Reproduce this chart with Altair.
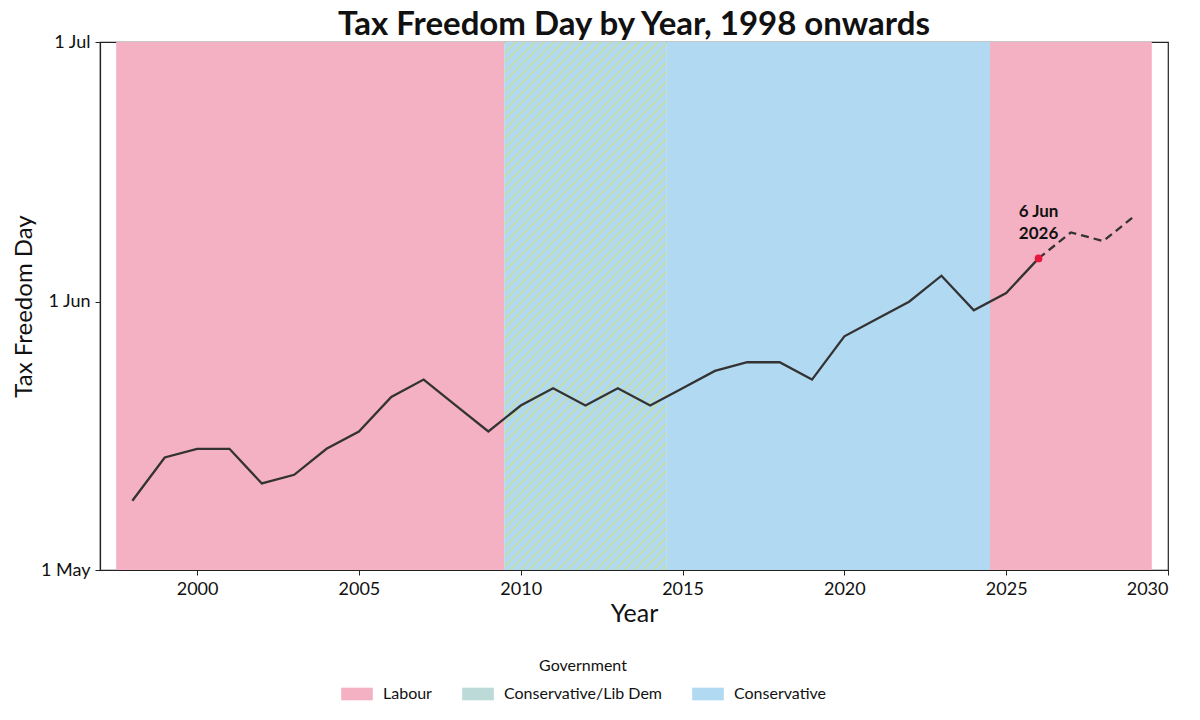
import altair as alt
import pandas as pd

# ---- data ----
years = list(range(1998, 2030))
tax_day = ["9 May", "14 May", "15 May", "15 May", "11 May", "12 May", "15 May", "17 May",
           "21 May", "23 May", "20 May", "17 May", "20 May", "22 May", "20 May", "22 May",
           "20 May", "22 May", "24 May", "25 May", "25 May", "23 May", "28 May", "30 May",
           "1 Jun", "4 Jun", "31 May", "2 Jun", "6 Jun", "9 Jun", "8 Jun", "11 Jun"]
last_actual_year = 2026

gov_names = ["Labour", "Conservative/Lib Dem", "Conservative", "Labour"]
gov_start = [1997.5, 2009.5, 2014.5, 2024.5]
gov_end = [2009.5, 2014.5, 2024.5, 2029.5]

legend_order = ["Labour", "Conservative/Lib Dem", "Conservative"]
legend_colors = ["#F5B1C4", "#BBDAD8", "#B2D9F2"]

y_tick_values = [0, 31, 61]
y_tick_labels = ["1 May", "1 Jun", "1 Jul"]

# ---- derived tables ----
def offset(s):
    d, m = s.split()
    return int(d) - 1 if m == "May" else 30 + int(d)

df = pd.DataFrame({"Year": years, "label": tax_day})
df["day"] = df["label"].map(offset)
actual = df[df["Year"] <= last_actual_year]
forecast = df[df["Year"] >= last_actual_year]
hl = df[df["Year"] == last_actual_year].copy()
hl["text"] = hl["label"] + "\n" + hl["Year"].astype(str)

bands = pd.DataFrame({"Government": gov_names, "start": gov_start, "end": gov_end})

W, H = 1068, 528
X_DOM = [1997, 2030]
Y_DOM = [0, 61]
FONT = "Lato"

xscale = alt.Scale(domain=X_DOM, nice=False, zero=False)
yscale = alt.Scale(domain=Y_DOM, nice=False, zero=True)

# hatch as a striped linear gradient (45 degree stripes)
bw = 5 * W / (X_DOM[1] - X_DOM[0])
bh = H
s = (bw + bh) / (bw * bw + bh * bh)
gx2, gy2 = bw * s, bh * s
period = 9.5 / (bw + bh)
green = 3.4 / (bw + bh)
blue_c, green_c = "#B2D9F2", "#C2DCB2"
stops = []
k = 0
while k * period < 1:
    a = k * period
    b = min(a + green, 1)
    c = min(a + period, 1)
    stops += [alt.GradientStop(offset=a, color=green_c), alt.GradientStop(offset=b, color=green_c),
              alt.GradientStop(offset=b, color=blue_c), alt.GradientStop(offset=c, color=blue_c)]
    k += 1
hatch_fill = alt.Gradient(gradient="linear", stops=stops, x1=0, y1=0, x2=gx2, y2=gy2)

label_expr = " : ".join(
    [f"datum.value == {v} ? '{l}'" for v, l in zip(y_tick_values, y_tick_labels)]) + " : ''"

base_bands = alt.Chart(bands).mark_rect().encode(
    x=alt.X("start:Q", scale=xscale,
            axis=alt.Axis(title="Year", values=list(range(2000, 2031, 5)), format="d",
                          labelFontSize=18, titleFontSize=25, titleFontWeight="normal",
                          titlePadding=3, labelPadding=5, tickSize=5, grid=False)),
    x2="end:Q",
    y=alt.datum(Y_DOM[0], scale=yscale,
                axis=alt.Axis(title="Tax Freedom Day", values=y_tick_values, labelExpr=label_expr,
                              labelFontSize=18, titleFontSize=24, titleFontWeight="normal",
                              titlePadding=4, labelPadding=5, tickSize=5, grid=False)),
    y2=alt.datum(Y_DOM[1]),
    color=alt.Color("Government:N",
                    scale=alt.Scale(domain=legend_order, range=legend_colors),
                    legend=alt.Legend(orient="none", direction="horizontal",
                                      legendX=241, legendY=616,
                                      title="Government", titleAnchor="middle",
                                      titleFontSize=16, titleFontWeight="normal",
                                      titlePadding=4, labelFontSize=16, labelOffset=10,
                                      columnPadding=30,
                                      symbolType="M-1,-0.4H1V0.4H-1Z", symbolSize=1000,
                                      symbolStrokeWidth=0, symbolOpacity=1)),
)

hatch = alt.Chart(bands).transform_filter(
    alt.datum.Government == "Conservative/Lib Dem"
).mark_rect(fill=hatch_fill).encode(
    x=alt.X("start:Q", scale=xscale), x2="end:Q",
    y=alt.datum(Y_DOM[0], scale=yscale), y2=alt.datum(Y_DOM[1]),
)

line_actual = alt.Chart(actual).mark_line(color="#333333", strokeWidth=2.3).encode(
    x=alt.X("Year:Q", scale=xscale), y=alt.Y("day:Q", scale=yscale))
line_fc = alt.Chart(forecast).mark_line(color="#333333", strokeWidth=2.3, strokeDash=[8, 5]).encode(
    x=alt.X("Year:Q", scale=xscale), y=alt.Y("day:Q", scale=yscale))
pt = alt.Chart(hl).mark_point(filled=True, color="#E5173F", size=60, opacity=1).encode(
    x=alt.X("Year:Q", scale=xscale), y=alt.Y("day:Q", scale=yscale))
txt = alt.Chart(hl).mark_text(fontWeight="bold", fontSize=17, lineBreak="\n", lineHeight=22,
                              baseline="bottom", align="center", dy=-37, font=FONT,
                              color="#111111").encode(
    x=alt.X("Year:Q", scale=xscale), y=alt.Y("day:Q", scale=yscale), text="text:N")

chart = alt.layer(base_bands, hatch, line_actual, line_fc, pt, txt).properties(
    width=W, height=H,
    title=alt.Title("Tax Freedom Day by Year, 1998 onwards", fontSize=33, fontWeight="bold",
                    font=FONT, anchor="middle", offset=6, dy=15, color="#111111"),
    autosize=alt.AutoSizeParams(type="none"),
    padding={"left": 92, "top": 34, "right": 24, "bottom": 140},
).configure(font=FONT).configure_axis(
    labelFont=FONT, titleFont=FONT, domainColor="#222222", tickColor="#222222",
    labelColor="#111111", titleColor="#111111", domainWidth=1.2,
).configure_legend(labelFont=FONT, titleFont=FONT, labelColor="#111111", titleColor="#111111"
).configure_view(stroke="#222222", strokeWidth=1.2)

chart.save("out.html", embed_options={"renderer": "svg", "actions": False})
